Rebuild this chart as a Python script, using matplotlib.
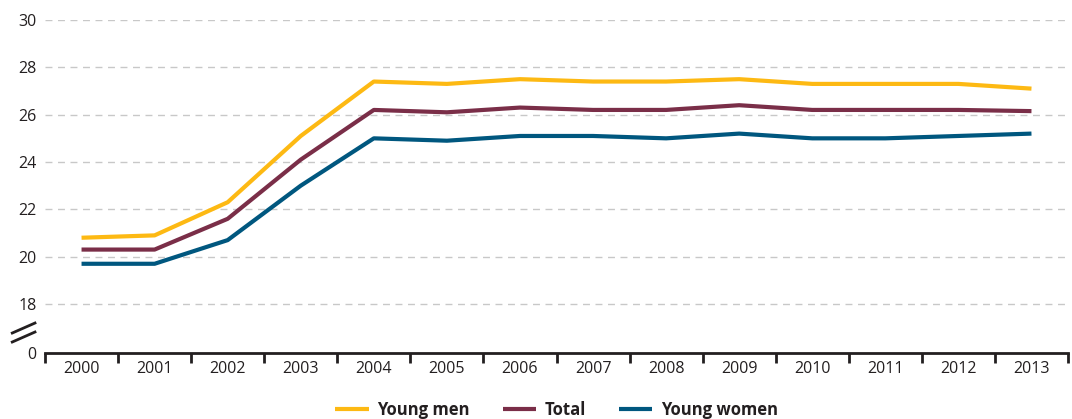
import numpy as np
import matplotlib.pyplot as plt

years = ['2000', '2001', '2002', '2003', '2004', '2005', '2006',
         '2007', '2008', '2009', '2010', '2011', '2012', '2013']
young_men = [20.8, 20.9, 22.3, 25.1, 27.4, 27.3, 27.5, 27.4, 27.4, 27.5, 27.3, 27.3, 27.3, 27.1]
total = [20.3, 20.3, 21.6, 24.1, 26.2, 26.1, 26.3, 26.2, 26.2, 26.4, 26.2, 26.2, 26.2, 26.15]
young_women = [19.7, 19.7, 20.7, 23.0, 25.0, 24.9, 25.1, 25.1, 25.0, 25.2, 25.0, 25.0, 25.1, 25.2]

ytick_vals = [18, 20, 22, 24, 26, 28, 30]
zero_pos = 15.93  # broken axis: where "0" sits on the drawn scale

plt.rcParams['font.family'] = ['Open Sans', 'DejaVu Sans']

fig = plt.figure(figsize=(10.72, 4.19), dpi=100)
ax = fig.add_axes([45 / 1072, 1 - 353 / 419, (1068 - 45) / 1072, (353 - 20) / 419])

x = np.arange(len(years))
ax.plot(x, young_men, color='#FDB913', lw=3, label='Young men', solid_capstyle='butt')
ax.plot(x, total, color='#7A2E48', lw=3, label='Total', solid_capstyle='butt')
ax.plot(x, young_women, color='#00577F', lw=3, label='Young women', solid_capstyle='butt')

ax.set_ylim(zero_pos, 30)
ax.set_xlim(-0.5, len(years) - 0.5)

ax.set_yticks([zero_pos] + ytick_vals)
ax.set_yticklabels(['0'] + [str(v) for v in ytick_vals])
for v in ytick_vals:
    ax.axhline(v, color='#c8c8c8', lw=1, dashes=(5, 4), zorder=0)
ax.tick_params(axis='y', length=0, labelsize=11.5, colors='#231f20', pad=6)

ax.set_xticks(x)
ax.set_xticklabels(years)
ax.set_xticks(np.arange(-0.5, len(years), 1), minor=True)
ax.tick_params(axis='x', which='major', length=0, labelsize=11.5, colors='#231f20', pad=6)
ax.tick_params(axis='x', which='minor', length=7, width=2, color='#231f20', direction='out')

for s in ['top', 'right', 'left']:
    ax.spines[s].set_visible(False)
ax.spines['bottom'].set_color('#231f20')
ax.spines['bottom'].set_linewidth(2)

# break marks
for y0 in [0.033, 0.06]:
    ax.plot([-0.032, -0.0098], [y0, y0 + 0.03], transform=ax.transAxes,
            color='#231f20', lw=2, clip_on=False)

leg = ax.legend(loc='upper center', bbox_to_anchor=(0.5, -0.1), ncol=3, frameon=False,
                prop={'weight': 'bold', 'size': 12}, handlelength=2.0, columnspacing=2.0,
                handletextpad=0.5)
for t in leg.get_texts():
    t.set_color('#231f20')

fig.savefig('out.png', dpi=100)
